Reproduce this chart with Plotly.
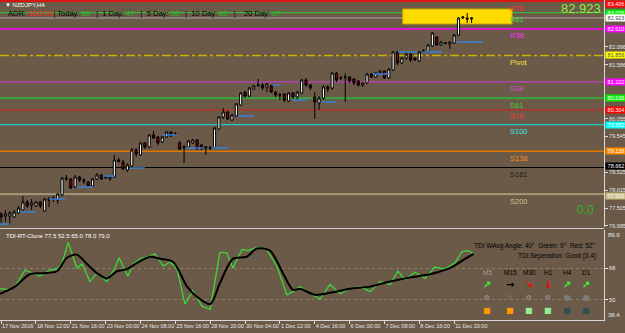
import plotly.graph_objects as go

# ---------------- data ----------------
bars = list(range(109))
opens = [77.336,77.279,77.279,77.251,77.365,77.450,77.678,77.593,77.564,77.678,
 77.422,77.764,77.764,77.735,77.878,78.362,78.334,78.106,78.391,78.305,
 78.248,78.134,78.334,78.448,78.362,78.334,78.391,78.875,78.818,78.590,
 78.704,79.160,79.018,79.360,79.246,79.588,79.531,79.388,79.531,79.673,
 79.616,79.360,79.246,79.246,79.360,79.445,79.303,79.217,79.217,79.217,
 79.759,80.101,80.243,80.015,80.129,80.443,80.813,80.699,80.899,81.013,
 81.013,80.956,80.984,80.813,80.728,80.756,80.557,80.785,80.671,80.785,
 81.155,81.013,80.671,80.500,80.642,80.956,80.927,81.354,81.212,81.240,
 81.240,81.184,81.126,81.013,81.070,81.326,81.240,81.354,81.411,81.212,
 81.440,81.953,81.639,81.782,81.896,81.782,81.696,81.953,81.953,82.124,
 82.380,82.152,82.209,82.181,82.209,82.437,82.922,82.922,82.893]
closes = [77.251,77.336,77.365,77.393,77.507,77.678,77.564,77.650,77.678,77.564,
 77.764,77.735,77.792,77.906,78.362,78.334,78.077,78.391,78.305,78.277,
 78.134,78.334,78.448,78.334,78.391,78.391,78.875,78.847,78.619,78.733,
 79.160,79.046,79.360,79.246,79.588,79.502,79.360,79.531,79.673,79.559,
 79.610,79.189,79.240,79.417,79.445,79.189,79.189,79.246,79.225,79.787,
 80.101,80.243,80.044,80.158,80.471,80.785,80.699,80.927,80.984,81.007,
 80.927,81.041,80.813,80.728,80.722,80.585,80.785,80.671,80.813,81.155,
 81.013,80.927,80.528,80.642,80.956,80.899,81.354,81.155,81.206,81.234,
 81.126,81.070,81.013,81.070,81.326,81.240,81.354,81.411,81.212,81.468,
 81.953,81.639,81.782,81.896,81.725,81.725,81.953,81.981,82.152,82.494,
 82.152,82.238,82.203,82.238,82.437,82.922,82.950,82.893,82.923]
highs = [77.393,77.450,77.422,77.450,77.564,77.849,77.735,77.764,77.707,77.707,
 77.792,77.821,77.849,77.935,78.391,78.448,78.362,78.448,78.419,78.362,
 78.277,78.362,78.505,78.476,78.448,78.419,79.018,78.932,78.875,78.790,
 79.217,79.217,79.388,79.388,79.616,79.702,79.559,79.559,79.702,79.702,
 79.673,79.417,79.303,79.445,79.474,79.474,79.331,79.274,79.274,79.816,
 80.129,80.357,80.272,80.186,80.500,80.813,80.842,80.956,81.013,81.184,
 81.070,81.070,81.013,80.842,80.785,80.785,80.813,80.813,80.842,81.184,
 81.212,81.041,80.813,80.699,81.013,81.013,81.383,81.383,81.269,81.354,
 81.269,81.212,81.155,81.098,81.354,81.354,81.383,81.440,81.440,81.497,
 81.981,81.981,81.810,81.953,81.924,81.810,81.981,82.038,82.181,82.523,
 82.409,82.266,82.238,82.266,82.466,82.950,82.979,83.065,82.935]
lows = [77.079,77.108,77.023,77.222,77.336,77.422,77.507,77.450,77.536,77.507,
 77.393,77.536,77.678,77.621,77.849,78.277,78.049,78.077,78.248,78.191,
 78.106,78.106,78.305,78.305,78.334,78.277,78.362,78.790,78.590,78.533,
 78.676,78.961,78.989,79.189,79.217,79.474,79.303,79.360,79.502,79.531,
 79.559,79.160,78.790,79.217,79.331,79.160,79.160,79.018,79.160,79.189,
 79.730,80.044,80.015,79.987,80.101,80.414,80.642,80.671,80.870,80.956,
 80.870,80.813,80.785,80.671,80.585,80.528,80.528,80.614,80.585,80.756,
 80.956,80.870,80.044,80.300,80.585,80.813,80.870,81.098,81.155,80.528,
 81.070,81.013,80.956,80.956,81.041,81.212,81.212,81.326,81.184,81.184,
 81.411,81.582,81.611,81.725,81.668,81.696,81.668,81.924,81.924,82.095,
 82.124,82.124,82.181,82.038,82.181,82.409,82.893,82.780,82.780]

tick_bars = [0, 8, 16, 24, 32, 40, 48, 56, 64, 72, 80, 88, 96, 104]
tick_labels = ["17 Nov 2016", "18 Nov 12:00", "21 Nov 16:00", "23 Nov 00:00", "24 Nov 08:00",
               "25 Nov 16:00", "28 Nov 20:00", "30 Nov 04:00", "1 Dec 12:00", "4 Dec 16:00",
               "6 Dec 00:00", "7 Dec 08:00", "8 Dec 16:00", "11 Dec 20:00"]
price_ticks = [82.096, 81.586, 80.055, 79.545, 78.525, 78.015, 77.505, 76.995]

level_names = ["R78", "R61", "R38", "Pivot", "S38", "S61", "S78", "S100", "S138", "S161", "S200"]
level_values = [83.406, 83.076, 82.610, 81.856, 81.102, 80.636, 80.304, 79.882, 79.126, 78.662, 77.905]
current_price = 82.923

zone_start_bar, zone_end_bar = 92.2, 117.3
zone_low, zone_high = 82.751, 83.178

seg_start = [-0.25, 4.3, 11.0, 17.4, 23.4, 29.6, 37.0, 42.7, 48.4, 54.4, 62.4, 66.8, 73.7, 85.4, 91.1, 96.8, 104.6]
seg_end = [2.0, 8.0, 14.7, 21.1, 26.1, 33.0, 40.4, 46.3, 52.1, 58.0, 64.2, 70.2, 77.1, 89.3, 95.5, 101.2, 110.6]
seg_price = [77.051, 77.393, 77.764, 78.106, 78.419, 78.647, 79.588, 79.217, 79.217, 80.129,
             81.013, 80.585, 80.528, 81.326, 81.953, 81.953, 82.238]

tdi_green_x = [-0.25, 2.0, 3.2, 5.5, 7.3, 8.9, 11.2, 12.8, 14.0, 15.4, 17.4, 18.6, 20.4, 22.0, 24.3, 26.1,
               27.1, 29.1, 30.3, 31.9, 33.7, 35.3, 37.2, 38.8, 40.4, 42.2, 44.0, 46.1, 48.0, 50.2, 51.8,
               53.2, 55.3, 56.7, 58.7, 61.0, 63.3, 65.6, 67.0, 68.6, 70.9, 73.2, 75.5, 77.8, 80.1, 82.4,
               84.7, 87.0, 89.3, 91.1, 92.7, 95.0, 97.3, 99.6, 101.9, 104.2, 105.8, 107.2, 108.5]
tdi_green = [56.3, 55.7, 57.5, 66.9, 65.2, 63.4, 66.9, 67.5, 71.1, 82.8, 68.1, 70.5, 60.4, 65.2, 60.4, 68.1,
             74.0, 63.4, 70.5, 73.4, 74.6, 76.3, 69.3, 71.6, 67.5, 47.5, 55.1, 46.3, 44.5, 76.9, 76.9,
             68.1, 78.7, 78.1, 79.9, 78.7, 69.3, 52.8, 54.6, 57.5, 53.4, 50.4, 58.7, 53.4, 56.3, 57.5,
             54.6, 60.4, 58.7, 66.3, 61.6, 65.7, 62.2, 68.7, 67.5, 71.1, 77.5, 78.1, 76.3]
tdi_black_x = [-0.25, 3.2, 6.6, 9.6, 12.8, 15.1, 17.4, 19.7, 22.0, 24.3, 26.6, 28.9, 31.2, 34.2, 36.5,
               39.5, 42.7, 45.0, 48.0, 50.2, 53.2, 56.4, 58.7, 61.7, 64.7, 67.0, 68.6, 72.0, 75.5, 80.1,
               84.7, 89.3, 93.9, 98.4, 103.0, 106.5, 108.5]
tdi_black = [53.4, 57.5, 64.6, 65.2, 66.3, 74.0, 75.8, 70.5, 65.2, 62.2, 66.3, 67.5, 71.1, 74.6, 73.4,
             71.6, 57.5, 51.6, 47.5, 59.3, 73.4, 74.6, 79.3, 78.1, 65.2, 55.7, 56.3, 52.8, 54.0, 56.3,
             57.5, 60.4, 62.8, 64.6, 68.1, 73.4, 76.3]
tdi_levels = [68, 50]
tdi_min, tdi_max = 38.4, 89.9

tf_labels = ["M5", "M15", "M30", "H1", "H4", "D1"]
tf_arrows = ["↗", "→", "↘", "↓", "↗", "↗"]
tf_circles = ["o", "o", "o", "o", "●", "●"]
tf_squares = ["■", "■", "■", "■", "■", "■"]

# ---------------- styles ----------------
BG = "#6b5a47"
FONT = "Liberation Sans"
level_line_colors = ["#ff0000", "#3cb43c", "#ff00ff", "#c8b400", "#c040c0", "#3ca03c",
                     "#d82020", "#20c8c8", "#e07800", "#000000", "#a89f78"]
level_line_widths = [1.5, 1.2, 1.5, 1.5, 1.2, 2.2, 1, 1.2, 1.5, 1.2, 1.8]
level_text_colors = ["#ff3030", "#40e040", "#ff30ff", "#f0e040", "#d050d0", "#40d040",
                     "#ff3030", "#30e8e8", "#ff8c20", "#1a1a1a", "#c8c090"]
level_box_colors = ["#ff0000", "#00ee00", "#ff00ff", "#ffff00", "#ff00ff", "#00ee00",
                    "#ff0000", "#00ffff", "#ff8c00", "#000000", "#c8c08a"]
tf_label_colors = ["#9a9a9a", "#000000", "#000000", "#000000", "#000000", "#000000"]
tf_arrow_colors = ["#33ff33", "#000000", "#ff0000", "#ff0000", "#33ff33", "#33ff33"]
tf_circle_colors = ["#8a8a8a", "#7a6a58", "#8a8a8a", "#8a8a8a", "#7d7d7d", "#7d7d7d"]
tf_square_colors = ["#ff9900", "#ff9900", "#90ee90", "#90ee90", "#2f4f4f", "#2f4f4f"]

W, H = 625, 333
ML, MR, MT, MB = 0, 21, 0, 13
PW, PH = W - ML - MR, H - MT - MB
def py(p):  # pixel row -> paper y
    return (PH - p) / PH
def px(p):  # pixel col -> paper x
    return p / PW

main_dom = [py(227), 1]
ind_dom = [0, py(230)]
y_main_range = [76.966, 83.435]
x_range = [-0.25, 138.4]

fig = go.Figure()

fig.add_trace(go.Candlestick(
    x=bars, open=opens, high=highs, low=lows, close=closes,
    increasing=dict(line=dict(color="#000000", width=1), fillcolor="#ffffff"),
    decreasing=dict(line=dict(color="#000000", width=1), fillcolor="#8b0000"),
    whiskerwidth=0, showlegend=False, hoverinfo="skip", xaxis="x", yaxis="y"))

sx, sy = [], []
for a, b, p in zip(seg_start, seg_end, seg_price):
    sx += [a, b, None]
    sy += [p, p, None]
fig.add_trace(go.Scatter(x=sx, y=sy, mode="lines", line=dict(color="#3a80d8", width=1.5),
                         showlegend=False, hoverinfo="skip", xaxis="x", yaxis="y"))

fig.add_trace(go.Scatter(x=tdi_green_x, y=tdi_green, mode="lines",
                         line=dict(color="#3ad83a", width=1.3),
                         showlegend=False, hoverinfo="skip", xaxis="x", yaxis="y2"))
fig.add_trace(go.Scatter(x=tdi_black_x, y=tdi_black, mode="lines",
                         line=dict(color="#000000", width=2, shape="spline", smoothing=0.8),
                         showlegend=False, hoverinfo="skip", xaxis="x", yaxis="y2"))

shapes = []
shapes.append(dict(type="rect", xref="x", yref="y", x0=zone_start_bar, x1=zone_end_bar,
                   y0=zone_low, y1=zone_high, fillcolor="#ffdc00",
                   line=dict(color="#c8a800", width=1), layer="below"))
shapes.append(dict(type="line", xref="paper", yref="y", x0=0, x1=1, y0=current_price,
                   y1=current_price, line=dict(color="#a8a8a8", width=1), layer="below"))
for name, v, c, w in zip(level_names, level_values, level_line_colors, level_line_widths):
    shapes.append(dict(type="line", xref="paper", yref="y", x0=0, x1=1, y0=v, y1=v,
                       line=dict(color=c, width=w, dash="dashdot" if name == "Pivot" else "solid"),
                       layer="below"))
# window separator
shapes.append(dict(type="line", xref="paper", yref="paper", x0=0, x1=1, y0=py(228.5), y1=py(228.5),
                   line=dict(color="#cfcfcf", width=1.2)))

ann = []
# level names in chart
for name, v, c in zip(level_names, level_values, level_text_colors):
    ann.append(dict(x=116.3, y=v, xref="x", yref="y", text=name, showarrow=False,
                    xanchor="left", yanchor="top", yshift=-0.5,
                    font=dict(family=FONT, size=7.5, color=c)))
# right axis price boxes
box_vals = level_values + [current_price]
box_bg = level_box_colors + ["#ffffff"]
box_fg = ["#ffffff", "#ffffff", "#ffffff", "#555555", "#ffffff", "#ffffff", "#ffffff",
          "#ffffff", "#ffffff", "#ffffff", "#ffffff", "#444444"]
box_shift = [-3, 0, 0, 0, 0, 0, 0, 0, 0, 1, -2, 0]
for v, bg, fg, s in zip(box_vals, box_bg, box_fg, box_shift):
    ann.append(dict(x=1, y=v, xref="paper", yref="y", text=f"{v:.3f}", showarrow=False,
                    xanchor="left", xshift=1, yshift=s,
                    bgcolor=bg, width=20, height=6, borderpad=0,
                    font=dict(family=FONT, size=5.5, color=fg)))
# indicator scale ends
ann.append(dict(x=1, y=tdi_max, xref="paper", yref="y2", text=f"{tdi_max}", showarrow=False,
                xanchor="left", yanchor="top", xshift=2, font=dict(family=FONT, size=6, color="#e8e8e8")))
ann.append(dict(x=1, y=tdi_min, xref="paper", yref="y2", text=f"{tdi_min}", showarrow=False,
                xanchor="left", yanchor="bottom", xshift=2, font=dict(family=FONT, size=6, color="#e8e8e8")))

# title & ADR line
ann.append(dict(x=px(3), y=py(5), xref="paper", yref="paper", text="▼ NZDJPY,H4", showarrow=False,
                xanchor="left", yanchor="middle", font=dict(family=FONT, size=6, color="#ffffff")))
adr = ("<span style='color:#000'>ADR: </span><span style='color:#ff2020'>100.0%</span>"
       "<span style='color:#000'>| Today: </span><span style='color:#20c020'>66</span>"
       "<span style='color:#000'>   |  1 Day: </span><span style='color:#20c020'>47</span>"
       "<span style='color:#000'>   |  5 Day: </span><span style='color:#20c020'>56</span>"
       "<span style='color:#000'>   |  10 Day: </span><span style='color:#20c020'>63</span>"
       "<span style='color:#000'>   |    20 Day: </span><span style='color:#20c020'>67</span>")
ann.append(dict(x=px(6), y=py(14), xref="paper", yref="paper", text=adr, showarrow=False,
                xanchor="left", yanchor="middle", font=dict(family=FONT, size=7.5, color="#000")))
ann.append(dict(x=px(603), y=py(9), xref="paper", yref="paper", text=f"{current_price:.3f}",
                showarrow=False, xanchor="right", yanchor="middle",
                font=dict(family=FONT, size=13, color="#8ef040")))
ann.append(dict(x=px(585), y=py(210), xref="paper", yref="paper", text="0.0", showarrow=False,
                xanchor="center", yanchor="middle", font=dict(family=FONT, size=12, color="#28b828")))

# indicator texts
ann.append(dict(x=px(4), y=py(235.5), xref="paper", yref="paper",
                text="TDI-RT-Clone 77.5 52.5 65.0 78.0 79.0", showarrow=False,
                xanchor="left", yanchor="middle", font=dict(family=FONT, size=6, color="#ffffff")))
ann.append(dict(x=px(598), y=py(246), xref="paper", yref="paper",
                text="TDI WAvg Angle: 40°  Green: 9°  Red: 52°", showarrow=False,
                xanchor="right", yanchor="middle", font=dict(family=FONT, size=6.5, color="#000")))
ann.append(dict(x=px(598), y=py(255.5), xref="paper", yref="paper",
                text="TDI Seperation: Good [3.4]", showarrow=False,
                xanchor="right", yanchor="middle", font=dict(family=FONT, size=6.5, color="#000")))
tf_x = [487, 510, 529, 548, 567, 586]
for i in range(6):
    ann.append(dict(x=px(tf_x[i]), y=py(272.5), xref="paper", yref="paper", text=tf_labels[i],
                    showarrow=False, xanchor="center", yanchor="middle",
                    font=dict(family=FONT, size=6.5, color=tf_label_colors[i])))
    ann.append(dict(x=px(tf_x[i]), y=py(284), xref="paper", yref="paper", text=f"<b>{tf_arrows[i]}</b>",
                    showarrow=False, xanchor="center", yanchor="middle",
                    font=dict(family="DejaVu Sans", size=10, color=tf_arrow_colors[i])))
    ann.append(dict(x=px(tf_x[i]), y=py(297), xref="paper", yref="paper", text=f"<b>{tf_circles[i]}</b>",
                    showarrow=False, xanchor="center", yanchor="middle",
                    font=dict(family="DejaVu Sans", size=8, color=tf_circle_colors[i])))
    ann.append(dict(x=px(tf_x[i]), y=py(310), xref="paper", yref="paper", text=tf_squares[i],
                    showarrow=False, xanchor="center", yanchor="middle",
                    font=dict(family="DejaVu Sans", size=8, color=tf_square_colors[i])))

fig.update_layout(
    width=W, height=H, margin=dict(l=ML, r=MR, t=MT, b=MB, autoexpand=False),
    paper_bgcolor=BG, plot_bgcolor=BG, showlegend=False,
    font=dict(family=FONT, size=6, color="#e8e8e8"),
    shapes=shapes, annotations=ann,
    xaxis=dict(domain=[0, 1], range=x_range, anchor="y2", tickmode="array",
               tickvals=tick_bars, ticktext=tick_labels, ticks="outside", ticklen=3,
               tickcolor="#e0e0e0", ticklabelposition="outside right", tickangle=0,
               tickfont=dict(family=FONT, size=5.5, color="#e8e8e8"), automargin=False,
               showline=True, linecolor="#d8d8d8", linewidth=1, showgrid=False, zeroline=False,
               rangeslider=dict(visible=False), fixedrange=True),
    yaxis=dict(domain=main_dom, range=y_main_range, side="right", anchor="x",
               tickmode="array", tickvals=price_ticks, ticktext=[f"{v:.3f}" for v in price_ticks],
               ticks="outside", ticklen=3, tickcolor="#e0e0e0", automargin=False,
               tickfont=dict(family=FONT, size=5.5, color="#e8e8e8"),
               showline=True, linecolor="#d8d8d8", mirror=True, showgrid=False, zeroline=False,
               fixedrange=True),
    yaxis2=dict(domain=ind_dom, range=[tdi_min, tdi_max], side="right", anchor="x",
                tickmode="array", tickvals=tdi_levels, ticktext=[str(v) for v in tdi_levels],
                ticks="outside", ticklen=3, tickcolor="#e0e0e0", automargin=False,
                tickfont=dict(family=FONT, size=5.5, color="#e8e8e8"),
                showline=True, linecolor="#d8d8d8", mirror=True,
                showgrid=True, gridcolor="#8d7d69", griddash="dot", zeroline=False, fixedrange=True),
)

fig.write_html("out.html")
